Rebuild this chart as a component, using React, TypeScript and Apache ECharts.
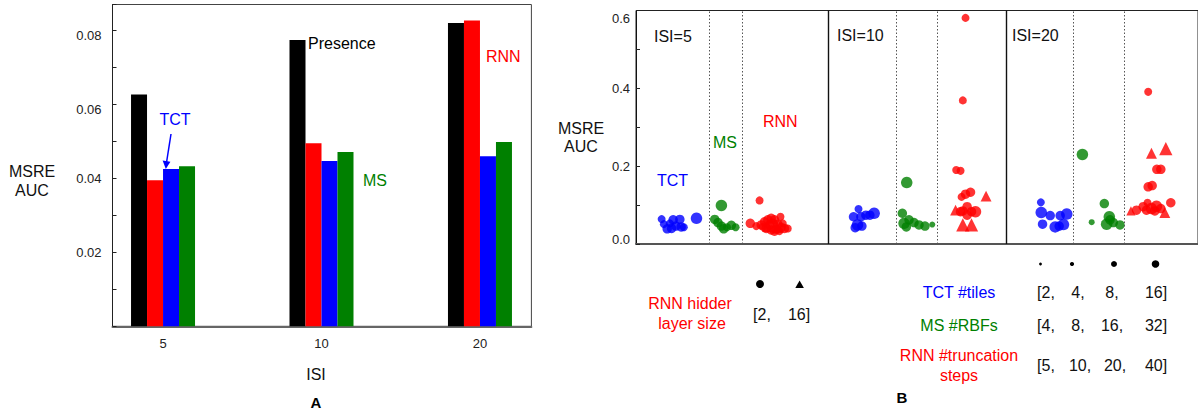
import React, { useEffect, useRef } from 'react';
import * as echarts from 'echarts';

// ---------- Panel A data ----------
const isiCategories = ['5', '10', '20'];
const presenceAUC = [0.0627, 0.0774, 0.082];
const rnnAUC = [0.0395, 0.0495, 0.0827];
const tctAUC = [0.0425, 0.0447, 0.046];
const msAUC = [0.0433, 0.0471, 0.0498];

// ---------- Panel B data: [strip position, MSRE AUC, size level] ----------
const tctPoints = [
  [2.57, 0.064, 1], [2.8, 0.051, 1], [3.13, 0.039, 2], [3.4, 0.053, 1], [3.73, 0.062, 2], [4.0, 0.046, 2],
  [4.4, 0.063, 2], [4.53, 0.044, 2], [4.8, 0.043, 1], [3.57, 0.04, 2], [6.07, 0.066, 3],
  [22.33, 0.09, 1], [21.83, 0.07, 2], [22.57, 0.07, 2], [23.07, 0.074, 2], [23.47, 0.074, 2], [23.9, 0.079, 3],
  [22.23, 0.049, 3], [22.67, 0.046, 2], [22.0, 0.042, 2],
  [40.63, 0.107, 1], [40.67, 0.081, 3], [41.57, 0.073, 2], [42.57, 0.073, 2], [43.23, 0.077, 3], [40.8, 0.051, 2],
  [42.07, 0.044, 3], [42.9, 0.05, 3], [42.47, 0.046, 2],
];
const msPoints = [
  [8.57, 0.099, 3], [7.9, 0.063, 2], [8.23, 0.055, 2], [8.57, 0.046, 2], [8.8, 0.039, 2], [9.13, 0.043, 1],
  [9.57, 0.048, 2], [10.0, 0.043, 1],
  [27.17, 0.158, 3], [26.73, 0.079, 2], [26.9, 0.053, 3], [27.4, 0.062, 2], [27.9, 0.055, 2], [28.4, 0.049, 2],
  [29.0, 0.046, 2], [29.73, 0.05, 0], [27.13, 0.044, 2],
  [44.8, 0.23, 3], [47.0, 0.104, 2], [45.73, 0.056, 0], [47.5, 0.07, 3], [47.23, 0.051, 3], [47.9, 0.055, 2],
  [48.57, 0.049, 2], [47.57, 0.062, 2],
];
const rnnCirclePoints = [
  [12.4, 0.112, 1], [11.47, 0.053, 2], [12.07, 0.046, 1], [12.57, 0.049, 2], [12.9, 0.057, 2], [13.23, 0.062, 2],
  [13.57, 0.066, 2], [13.9, 0.062, 2], [14.5, 0.07, 1], [13.07, 0.04, 2], [13.57, 0.036, 2], [14.07, 0.038, 2],
  [14.57, 0.043, 2], [14.9, 0.04, 2], [15.23, 0.04, 1], [14.23, 0.051, 2], [13.4, 0.049, 2], [12.73, 0.044, 1],
  [14.73, 0.053, 1], [13.73, 0.053, 2], [13.9, 0.033, 2], [14.4, 0.033, 1],
  [33.07, 0.581, 1], [32.8, 0.369, 1], [32.13, 0.19, 1], [32.57, 0.188, 1], [33.57, 0.133, 2], [33.07, 0.128, 2],
  [32.67, 0.121, 1], [33.23, 0.096, 2], [32.8, 0.085, 2], [34.07, 0.083, 3], [33.67, 0.083, 2], [32.57, 0.083, 2],
  [33.23, 0.074, 2],
  [51.4, 0.391, 1], [52.27, 0.192, 2], [52.67, 0.192, 2], [51.4, 0.147, 2], [51.8, 0.15, 2], [50.23, 0.087, 2],
  [50.9, 0.096, 2], [51.33, 0.106, 1], [51.73, 0.091, 3], [52.23, 0.097, 3], [52.67, 0.091, 2], [52.07, 0.085, 2],
  [53.67, 0.106, 2], [51.23, 0.087, 2],
];
const rnnTrianglePoints = [
  [13.2, 0.045, 2], [14.2, 0.042, 2],
  [35.13, 0.123, 2], [32.07, 0.087, 2], [32.8, 0.049, 3], [33.67, 0.049, 3],
  [51.73, 0.233, 2], [53.17, 0.245, 3], [49.67, 0.085, 1], [53.07, 0.081, 2],
];
const isiPanelSplits = [19.25, 37.2];
const methodSplits = [7.33, 10.63, 26.07, 30.23, 43.9, 49.0];
const isiPanelLabels = ['ISI=5', 'ISI=10', 'ISI=20'];
const tctTiles = ['[2,', '4,', '8,', '16]'];
const msRBFs = ['[4,', '8,', '16,', '32]'];
const rnnTrunc = ['[5,', '10,', '20,', '40]'];
const rnnHidden = ['[2,', '16]'];

const pointSizes = [6, 8, 9.5, 11.5];
const FONT = 'Liberation Sans, Arial, Helvetica, sans-serif';
const BLUE = '#0000ff';
const RED = '#ff0000';
const GREEN = '#008000';

function txt(text: string, x: number, y: number, color: string, align = 'left', size = 16, weight = 'normal') {
  return {
    type: 'text',
    x,
    y,
    silent: true,
    style: {
      text,
      fill: color,
      fontSize: size,
      fontFamily: FONT,
      fontWeight: weight,
      align,
      verticalAlign: 'middle',
      textAlign: align,
      textVerticalAlign: 'middle',
    },
  };
}

export default function App() {
  const ref = useRef<HTMLDivElement>(null);
  useEffect(() => {
    const chart = echarts.init(ref.current!, null, { renderer: 'svg' });
    const scatterBase = {
      type: 'scatter',
      xAxisIndex: 2,
      yAxisIndex: 2,
      symbolSize: (d: number[]) => pointSizes[d[2]],
      itemStyle: { opacity: 1 },
      silent: true,
    };
    const legendXs = [1046, 1078, 1112, 1156];
    const graphics: any[] = [
      // Panel A annotations
      txt('Presence', 308, 43, '#000'),
      txt('RNN', 486, 56, RED),
      txt('TCT', 175, 119, BLUE, 'center'),
      txt('MS', 363, 180, GREEN),
      txt('MSRE', 32, 171, '#111', 'center'),
      txt('AUC', 32, 190, '#111', 'center'),
      txt('ISI', 316, 374, '#111', 'center'),
      txt('A', 316, 402, '#000', 'center', 15, 'bold'),
      {
        type: 'line', silent: true,
        shape: { x1: 171, y1: 134, x2: 166.6, y2: 162 },
        style: { stroke: BLUE, lineWidth: 1.5 },
      },
      {
        type: 'polygon', silent: true,
        shape: { points: [[162.6, 160.5], [170.4, 161.7], [165.8, 169]] },
        style: { fill: BLUE },
      },
      // Panel B annotations
      txt(isiPanelLabels[0], 654, 36, '#111'),
      txt(isiPanelLabels[1], 837, 35, '#111'),
      txt(isiPanelLabels[2], 1012, 35, '#111'),
      txt('TCT', 657, 180, BLUE),
      txt('MS', 713, 142, GREEN),
      txt('RNN', 763, 121, RED),
      txt('MSRE', 581, 128, '#111', 'center'),
      txt('AUC', 581, 146, '#111', 'center'),
      // Legend B
      txt('RNN hidder', 690, 303, RED, 'center'),
      txt('layer size', 692, 323, RED, 'center'),
      { type: 'circle', silent: true, shape: { cx: 760, cy: 284, r: 4 }, style: { fill: '#000' } },
      { type: 'polygon', silent: true, shape: { points: [[795.3, 288], [803.9, 288], [799.6, 280.5]] }, style: { fill: '#000' } },
      txt(rnnHidden[0], 762, 314, '#111', 'center'),
      txt(rnnHidden[1], 799, 314, '#111', 'center'),
      { type: 'circle', silent: true, shape: { cx: 1040.5, cy: 264, r: 1.4 }, style: { fill: '#000' } },
      { type: 'circle', silent: true, shape: { cx: 1072, cy: 264, r: 2.1 }, style: { fill: '#000' } },
      { type: 'circle', silent: true, shape: { cx: 1114, cy: 264, r: 3 }, style: { fill: '#000' } },
      { type: 'circle', silent: true, shape: { cx: 1155.5, cy: 264, r: 3.8 }, style: { fill: '#000' } },
      txt('TCT #tiles', 959, 292, BLUE, 'center'),
      txt('MS #RBFs', 959, 325.5, GREEN, 'center'),
      txt('RNN #truncation', 959, 355.5, RED, 'center'),
      txt('steps', 959, 375.5, RED, 'center'),
      txt('B', 902, 397, '#000', 'center', 15, 'bold'),
    ];
    tctTiles.forEach((t, i) => graphics.push(txt(t, legendXs[i], 292, '#111', 'center')));
    msRBFs.forEach((t, i) => graphics.push(txt(t, legendXs[i], 325.5, '#111', 'center')));
    rnnTrunc.forEach((t, i) => graphics.push(txt(t, legendXs[i] + (i === 1 ? 2 : i === 2 ? 3 : 0), 365, '#111', 'center')));

    const option: any = {
      animation: false,
      backgroundColor: '#fff',
      grid: [
        { left: 83.8, top: 4.5, width: 475.4, height: 321.8 },
        { left: 112.5, top: 4.5, width: 418.9, height: 321.8, show: true, borderColor: '#444', borderWidth: 1, backgroundColor: 'transparent' },
        { left: 636, top: 10.5, width: 564, height: 233.5, show: true, borderColor: '#222', borderWidth: 1, backgroundColor: 'transparent' },
      ],
      xAxis: [
        {
          type: 'category', gridIndex: 0, data: isiCategories,
          axisLine: { show: false }, axisTick: { show: false },
          axisLabel: { margin: 11, fontSize: 13, color: '#222', fontFamily: FONT },
        },
        {
          type: 'value', gridIndex: 1, min: 0, max: 1,
          axisLine: { show: true, lineStyle: { color: '#666', width: 2 } },
          axisTick: { show: false }, axisLabel: { show: false }, splitLine: { show: false },
        },
        {
          type: 'value', gridIndex: 2, min: 0, max: 56.4,
          axisLine: { show: true, lineStyle: { color: '#555', width: 2 } },
          axisTick: { show: false }, axisLabel: { show: false }, splitLine: { show: false },
        },
      ],
      yAxis: [
        { type: 'value', gridIndex: 0, min: 0, max: 0.087, show: false },
        {
          type: 'value', gridIndex: 1, min: 0, max: 0.087, interval: 0.02,
          axisLine: { show: true, lineStyle: { color: '#222', width: 1 } },
          axisTick: { show: true, inside: true, length: 4, lineStyle: { color: '#222' } },
          minorTick: { show: true, splitNumber: 2, length: 4, lineStyle: { color: '#222' } },
          splitLine: { show: false }, minorSplitLine: { show: false },
          axisLabel: {
            margin: 11, fontSize: 13, color: '#222', fontFamily: FONT,
            formatter: (v: number) => {
              const k = v / 0.02;
              if (!(v > 0.001 && v < 0.081 && Math.abs(k - Math.round(k)) < 1e-6)) return '';
              return v > 0.05 ? '{d|' + v.toFixed(2) + '}' : v.toFixed(2);
            },
            rich: {
              d: { fontSize: 13, color: '#222', fontFamily: FONT, padding: [10, 0, 0, 0] },
            },
          },
        },
        {
          type: 'value', gridIndex: 2, min: 0, max: 0.6, interval: 0.2,
          axisLine: { show: true, lineStyle: { color: '#111', width: 1 } },
          axisTick: { show: true, inside: true, length: 4, lineStyle: { color: '#222' } },
          minorTick: { show: true, splitNumber: 2, length: 4, lineStyle: { color: '#222' } },
          splitLine: { show: false }, minorSplitLine: { show: false },
          axisLabel: {
            margin: 6, fontSize: 13, color: '#222', fontFamily: FONT,
            formatter: (v: number) => {
              if (v > 0.55) return '{t|' + v.toFixed(1) + '}';
              if (v < 0.05) return '{b|' + v.toFixed(1) + '}';
              return v.toFixed(1);
            },
            rich: {
              t: { fontSize: 13, color: '#222', fontFamily: FONT, padding: [16, 0, 0, 0] },
              b: { fontSize: 13, color: '#222', fontFamily: FONT, padding: [0, 0, 10, 0] },
            },
          },
        },
      ],
      series: [
        { type: 'bar', name: 'Presence', xAxisIndex: 0, yAxisIndex: 0, data: presenceAUC, barWidth: 16, barGap: '0%', itemStyle: { color: '#000' }, silent: true },
        { type: 'bar', name: 'RNN', xAxisIndex: 0, yAxisIndex: 0, data: rnnAUC, barWidth: 16, barGap: '0%', itemStyle: { color: RED }, silent: true },
        { type: 'bar', name: 'TCT', xAxisIndex: 0, yAxisIndex: 0, data: tctAUC, barWidth: 16, barGap: '0%', itemStyle: { color: BLUE }, silent: true },
        { type: 'bar', name: 'MS', xAxisIndex: 0, yAxisIndex: 0, data: msAUC, barWidth: 16, barGap: '0%', itemStyle: { color: GREEN }, silent: true },
        {
          ...scatterBase, name: 'TCT pts', data: tctPoints, symbol: 'circle', itemStyle: { color: BLUE },
          markLine: {
            silent: true, symbol: ['none', 'none'], label: { show: false }, animation: false,
            data: [
              ...isiPanelSplits.map((x) => ({ xAxis: x, lineStyle: { color: '#111', width: 1.4, type: 'solid' } })),
              ...methodSplits.map((x) => ({ xAxis: x, lineStyle: { color: '#555', width: 1, type: [1.5, 2] } })),
            ],
          },
        },
        { ...scatterBase, name: 'MS pts', data: msPoints, symbol: 'circle', itemStyle: { color: GREEN } },
        { ...scatterBase, name: 'RNN pts', data: rnnCirclePoints, symbol: 'circle', itemStyle: { color: RED } },
        {
          ...scatterBase, name: 'RNN tri', data: rnnTrianglePoints, symbol: 'triangle', itemStyle: { color: RED },
          symbolSize: (d: number[]) => pointSizes[d[2]] * 1.15,
        },
      ],
      graphic: graphics,
    };
    chart.setOption(option);
    return () => chart.dispose();
  }, []);
  return (
    <div
      ref={ref}
      style={{ position: 'fixed', left: 0, top: 0, width: 1198, height: 413, background: '#fff' }}
    />
  );
}
